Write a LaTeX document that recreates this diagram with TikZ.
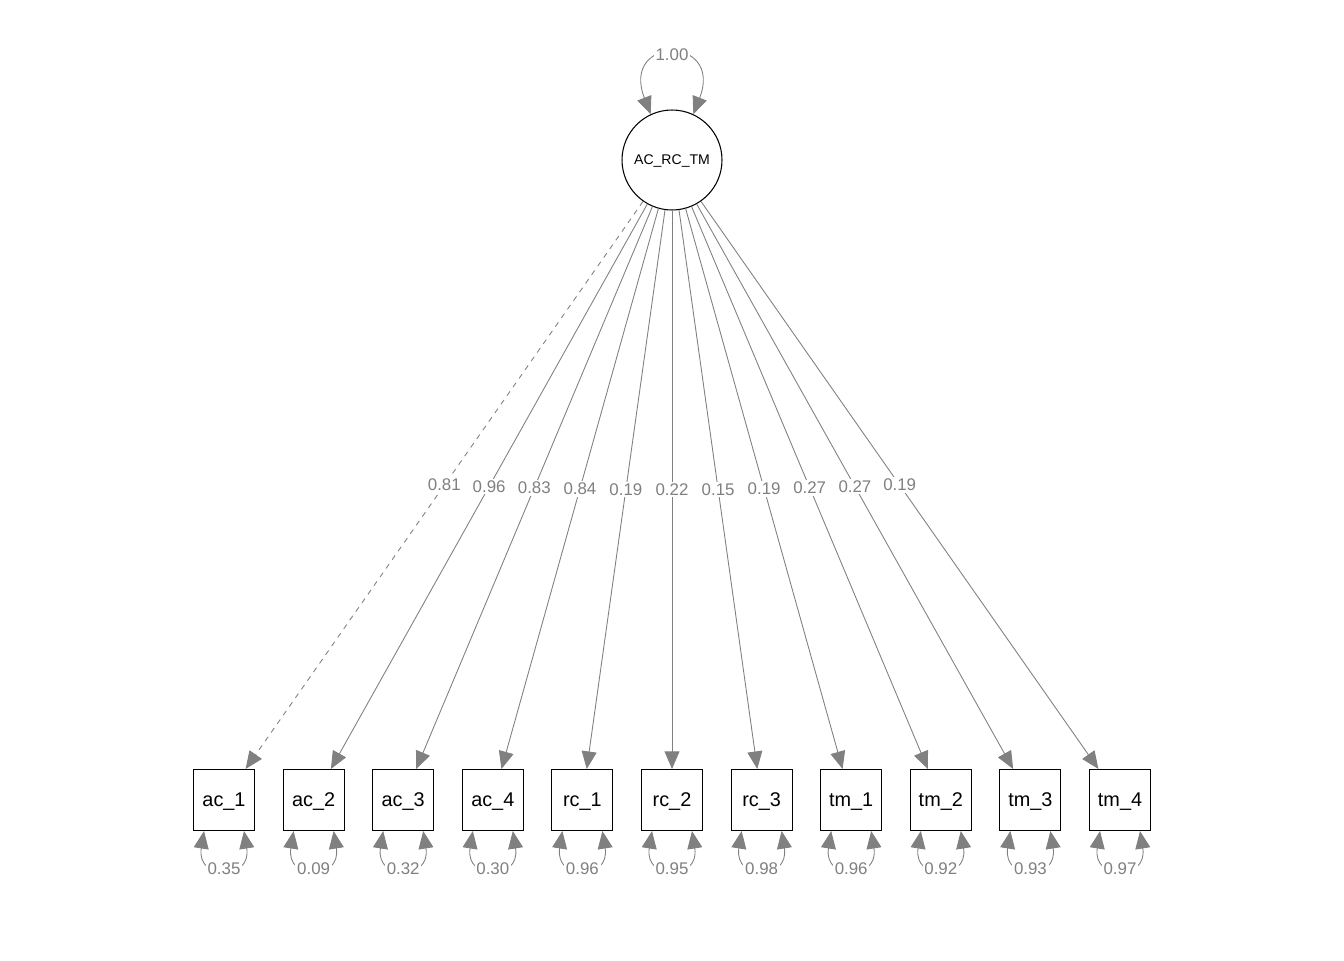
\documentclass[tikz,border=0pt]{standalone}
\usepackage{fontspec}
\setmainfont{Liberation Sans}
\usetikzlibrary{arrows.meta}

\begin{document}
\begin{tikzpicture}[x=0.02cm,y=-0.02cm,
    >={Triangle[length=10pt,width=8.5pt]},
    manifest/.style={draw,line width=0.6pt,minimum size=1.22cm,inner sep=0pt,text depth=0pt,font=\fontsize{11.3}{13}\selectfont},
    latent/.style={circle,draw,line width=0.6pt,minimum size=2cm,inner sep=0pt,text depth=0pt,font=\fontsize{8}{9}\selectfont},
    load/.style={->,gray,line width=0.5pt},
    resid/.style={<->,gray,line width=0.5pt},
    lbl/.style={fill=white,text=gray,inner sep=1pt,font=\fontsize{9.6}{11}\selectfont}]
            \useasboundingbox (0,0) rectangle (1344,960);
            % latent factor
            \node (lat) at (672,160) [latent] {AC\_RC\_TM};
            \draw[resid] (lat.115) .. controls (620,35) and (724,35) .. (lat.65) node[lbl,pos=0.5] {1.00};
            % indicators
            \node (ac1) at (224,800) [manifest] {ac\_1};
            \node (ac2) at (313.6,800) [manifest] {ac\_2};
            \node (ac3) at (403.2,800) [manifest] {ac\_3};
            \node (ac4) at (492.8,800) [manifest] {ac\_4};
            \node (rc1) at (582.4,800) [manifest] {rc\_1};
            \node (rc2) at (672,800) [manifest] {rc\_2};
            \node (rc3) at (761.6,800) [manifest] {rc\_3};
            \node (tm1) at (851.2,800) [manifest] {tm\_1};
            \node (tm2) at (940.8,800) [manifest] {tm\_2};
            \node (tm3) at (1030.4,800) [manifest] {tm\_3};
            \node (tm4) at (1120,800) [manifest] {tm\_4};
            % loadings
            \draw[load,dashed] (lat) -- (ac1) node[lbl,pos=0.5] {0.81};
            \draw[load] (lat) -- (ac2) node[lbl,pos=0.5] {0.96};
            \draw[load] (lat) -- (ac3) node[lbl,pos=0.5] {0.83};
            \draw[load] (lat) -- (ac4) node[lbl,pos=0.5] {0.84};
            \draw[load] (lat) -- (rc1) node[lbl,pos=0.5] {0.19};
            \draw[load] (lat) -- (rc2) node[lbl,pos=0.5] {0.22};
            \draw[load] (lat) -- (rc3) node[lbl,pos=0.5] {0.15};
            \draw[load] (lat) -- (tm1) node[lbl,pos=0.5] {0.19};
            \draw[load] (lat) -- (tm2) node[lbl,pos=0.5] {0.27};
            \draw[load] (lat) -- (tm3) node[lbl,pos=0.5] {0.27};
            \draw[load] (lat) -- (tm4) node[lbl,pos=0.5] {0.19};
            % residual variances
            \draw[resid] ([xshift=-0.4cm]ac1.south) .. controls +(-8,50) and +(8,50) .. ([xshift=0.4cm]ac1.south) node[lbl,pos=0.5] {0.35};
            \draw[resid] ([xshift=-0.4cm]ac2.south) .. controls +(-8,50) and +(8,50) .. ([xshift=0.4cm]ac2.south) node[lbl,pos=0.5] {0.09};
            \draw[resid] ([xshift=-0.4cm]ac3.south) .. controls +(-8,50) and +(8,50) .. ([xshift=0.4cm]ac3.south) node[lbl,pos=0.5] {0.32};
            \draw[resid] ([xshift=-0.4cm]ac4.south) .. controls +(-8,50) and +(8,50) .. ([xshift=0.4cm]ac4.south) node[lbl,pos=0.5] {0.30};
            \draw[resid] ([xshift=-0.4cm]rc1.south) .. controls +(-8,50) and +(8,50) .. ([xshift=0.4cm]rc1.south) node[lbl,pos=0.5] {0.96};
            \draw[resid] ([xshift=-0.4cm]rc2.south) .. controls +(-8,50) and +(8,50) .. ([xshift=0.4cm]rc2.south) node[lbl,pos=0.5] {0.95};
            \draw[resid] ([xshift=-0.4cm]rc3.south) .. controls +(-8,50) and +(8,50) .. ([xshift=0.4cm]rc3.south) node[lbl,pos=0.5] {0.98};
            \draw[resid] ([xshift=-0.4cm]tm1.south) .. controls +(-8,50) and +(8,50) .. ([xshift=0.4cm]tm1.south) node[lbl,pos=0.5] {0.96};
            \draw[resid] ([xshift=-0.4cm]tm2.south) .. controls +(-8,50) and +(8,50) .. ([xshift=0.4cm]tm2.south) node[lbl,pos=0.5] {0.92};
            \draw[resid] ([xshift=-0.4cm]tm3.south) .. controls +(-8,50) and +(8,50) .. ([xshift=0.4cm]tm3.south) node[lbl,pos=0.5] {0.93};
            \draw[resid] ([xshift=-0.4cm]tm4.south) .. controls +(-8,50) and +(8,50) .. ([xshift=0.4cm]tm4.south) node[lbl,pos=0.5] {0.97};
        \end{tikzpicture}
\end{document}
